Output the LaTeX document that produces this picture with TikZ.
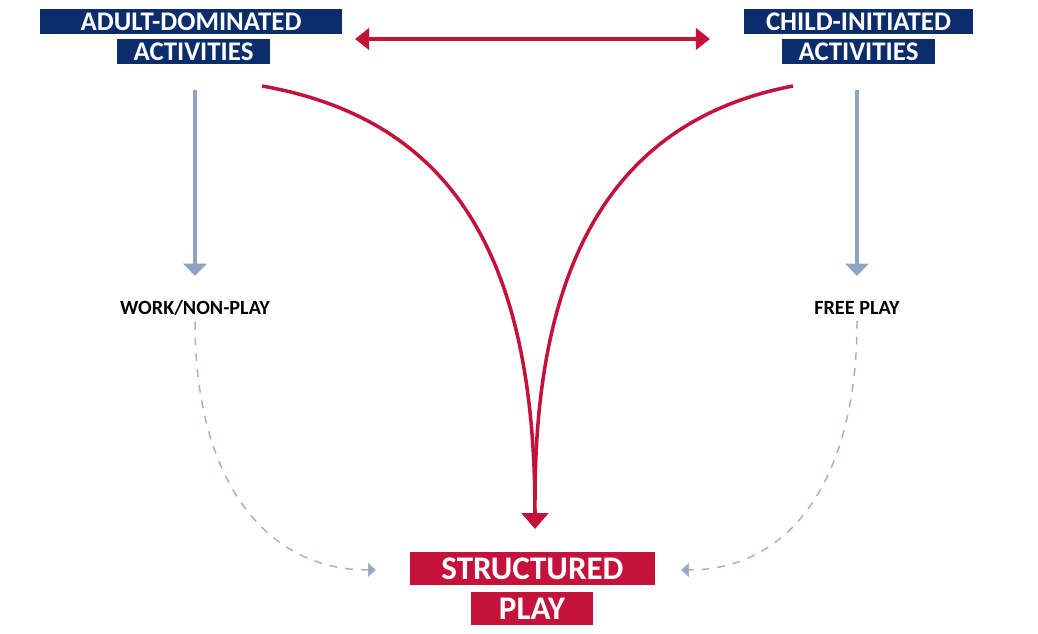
\documentclass[tikz,border=0pt]{standalone}
\usepackage{fontspec}
\setmainfont{Carlito}
\usepackage{tikz}
\usetikzlibrary{arrows.meta}
\usetikzlibrary{positioning}

\definecolor{navy}{HTML}{0B2D6B}
\definecolor{crimson}{HTML}{C4123A}
\definecolor{steel}{HTML}{8FA3C2}
\definecolor{paledash}{HTML}{A3B2C9}

\begin{document}
\begin{tikzpicture}[x=0.02cm, y=-0.02cm,
    navybox/.style={fill=navy, text=white, font=\bfseries\fontsize{15.3}{16}\selectfont, inner sep=0pt, minimum height=0.5cm},
    redbox/.style={fill=crimson, text=white, font=\bfseries\fontsize{18.8}{19}\selectfont, inner sep=0pt, minimum height=0.66cm},
    outcome/.style={font=\bfseries\fontsize{11.5}{12}\selectfont, text=black},
    redline/.style={draw=crimson, line width=2pt},
    greyline/.style={draw=steel, line width=2.3pt, -{Triangle[width=13pt,length=7pt]}},
    dashline/.style={draw=paledash, line width=0.85pt, dash pattern=on 4.5pt off 4.5pt, -{Triangle[width=8pt,length=4.5pt,fill=steel]}}]
\useasboundingbox (0,0) rectangle (1038,634);

% top boxes
\node[navybox, minimum width=6.06cm] (adult)    at (191,22) {ADULT-DOMINATED};
\node[navybox, minimum width=3.06cm] (adultact) at (193.5,51.5) {ACTIVITIES};
\node[navybox, minimum width=4.58cm] (child)    at (858.5,22) {CHILD-INITIATED};
\node[navybox, minimum width=3.06cm] (childact) at (858.5,51.5) {ACTIVITIES};

% bottom box
\node[redbox, minimum width=4.9cm]  (struct) at (532.5,568.5) {STRUCTURED};
\node[redbox, minimum width=2.44cm] (play)   at (532,608.5) {PLAY};

% outcomes
\node[outcome] (work) at (195,308) {WORK/NON-PLAY};
\node[outcome] (free) at (857,308) {FREE PLAY};

% helper points
\coordinate (lstart) at (262,86);
\coordinate (rstart) at (793,86);
\coordinate (tip)    at (535,529);
\coordinate (ltop)   at (195,90);
\coordinate (rtop)   at (857,90);
\coordinate (lbot)   at (195,276);
\coordinate (rbot)   at (857,276);
\coordinate (dleft)  at (355,39);
\coordinate (dright) at (710,39);
\coordinate (lend)   at (376,570);
\coordinate (rend)   at (681,570);

% red connectors
\draw[redline, {Triangle[width=12pt,length=8pt]}-{Triangle[width=12pt,length=8pt]}] (dleft) -- (dright);
\draw[redline, -{Triangle[width=15pt,length=9pt]}] (lstart) .. controls (455,120) and (535,260) .. (tip);
\draw[redline] (rstart) .. controls (615,120) and (535,260) .. (535,500);

% grey connectors
\draw[greyline] (ltop) -- (lbot);
\draw[greyline] (rtop) -- (rbot);

% dashed returns
\draw[dashline] (work.south) .. controls (195,480) and (265,570) .. (lend);
\draw[dashline] (free.south) .. controls (857,480) and (790,570) .. (rend);
\end{tikzpicture}
\end{document}
